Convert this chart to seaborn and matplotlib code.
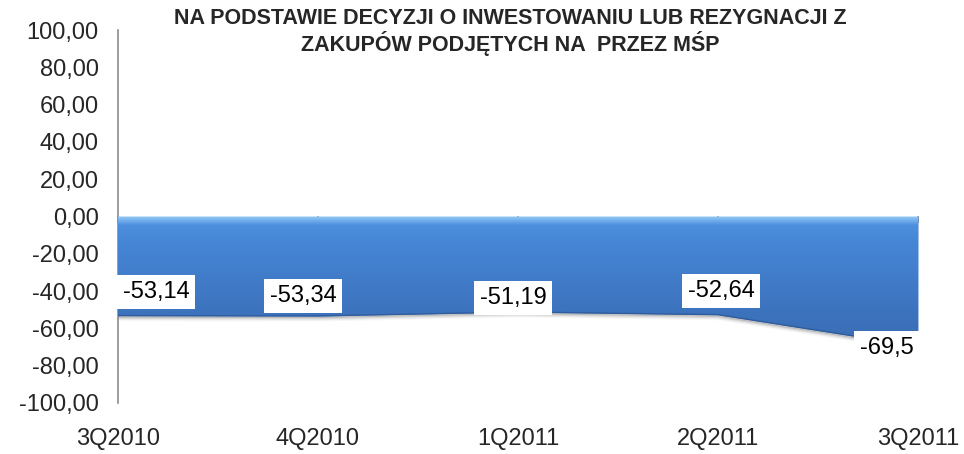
import numpy as np
import pandas as pd
import seaborn as sns
import matplotlib.pyplot as plt
from matplotlib.colors import LinearSegmentedColormap

# chart data
quarters = ['3Q2010', '4Q2010', '1Q2011', '2Q2011', '3Q2011']
values = [-53.14, -53.34, -51.19, -52.64, -69.5]
value_labels = ['-53,14', '-53,34', '-51,19', '-52,64', '-69,5']
y_ticks = [-100, -80, -60, -40, -20, 0, 20, 40, 60, 80, 100]
title = ('NA PODSTAWIE DECYZJI O INWESTOWANIU LUB REZYGNACJI Z\n'
         'ZAKUPÓW PODJĘTYCH NA  PRZEZ MŚP')

# label placement relative to each point, in pixels
label_offsets = [(38, 24), (-15, 20), (-5, 14), (3, 24), (-31, -2)]

sns.set_theme(style='white')
plt.rcParams['font.family'] = ['Liberation Sans', 'DejaVu Sans']

df = pd.DataFrame({'quarter': quarters, 'value': values})
df['pos'] = np.arange(len(df))

fig = plt.figure(figsize=(9.64, 4.54), dpi=100)
ax = fig.add_axes([118 / 964, 51 / 454, 800 / 964, 373 / 454])

# area between 0 and the series
area = ax.fill_between(df['pos'], 0, df['value'], color='#4682d2', lw=0, zorder=2)

# vertical gradient clipped to the area
cmap = LinearSegmentedColormap.from_list(
    'blue', [(0.0, '#3a6cb3'), (0.3, '#3d74bf'), (0.8, '#4686d6'),
             (0.93, '#4c8edc'), (0.96, '#6aa8ea'), (1.0, '#96caf7')])
grad = np.linspace(0, 1, 256).reshape(-1, 1)
img = ax.imshow(grad, cmap=cmap, aspect='auto', origin='lower',
                extent=[df['pos'].min(), df['pos'].max(), df['value'].min(), 0],
                zorder=3)
img.set_clip_path(area.get_paths()[0], transform=ax.transData)

# soft shadow under the lower edge
for i, a in enumerate([0.25, 0.15, 0.08, 0.04]):
    sns.lineplot(x=df['pos'], y=df['value'] - 0.6 * (i + 1), ax=ax,
                 color='#404040', alpha=a, lw=1.5, zorder=1)
sns.lineplot(x=df['pos'], y=df['value'], ax=ax, color='#2f5c9c', lw=1, zorder=4)
ax.set_xlabel('')
ax.set_ylabel('')

# value labels
for x, y, txt, (dx, dy) in zip(df['pos'], df['value'], value_labels, label_offsets):
    ax.annotate(txt, (x, y), xytext=(dx, dy), textcoords='offset pixels',
                ha='center', va='center', fontsize=17, color='black', zorder=6,
                bbox=dict(boxstyle='square,pad=0.25', fc='white', ec='none'))

ax.set_xlim(0, len(quarters) - 1)
ax.set_ylim(-100, 100)
ax.set_yticks(y_ticks)
ax.set_yticklabels([f'{t:.2f}'.replace('.', ',') for t in y_ticks], fontsize=17)
ax.set_xticks(df['pos'])
ax.set_xticklabels(quarters, fontsize=17)
ax.tick_params(axis='y', length=0, pad=14)
ax.tick_params(axis='x', length=0, pad=18)

for side in ['top', 'right', 'bottom']:
    ax.spines[side].set_visible(False)
ax.spines['left'].set_color('#8c8c8c')
ax.spines['left'].set_linewidth(1.2)

# category axis crossing at zero
sec = ax.secondary_xaxis(0.5)
sec.set_xticks(df['pos'])
sec.set_xticklabels([])
sec.tick_params(direction='in', length=5, color='#8c8c8c', width=1.2)
sec.spines['bottom'].set_color('#8c8c8c')
sec.spines['bottom'].set_linewidth(1.2)
for side in ['top', 'left', 'right']:
    sec.spines[side].set_visible(False)

fig.text(510 / 964, 1 - 32 / 454, title, ha='center', va='center',
         fontsize=15.5, fontweight='bold', linespacing=1.1)

fig.savefig('out.png', dpi=100)
